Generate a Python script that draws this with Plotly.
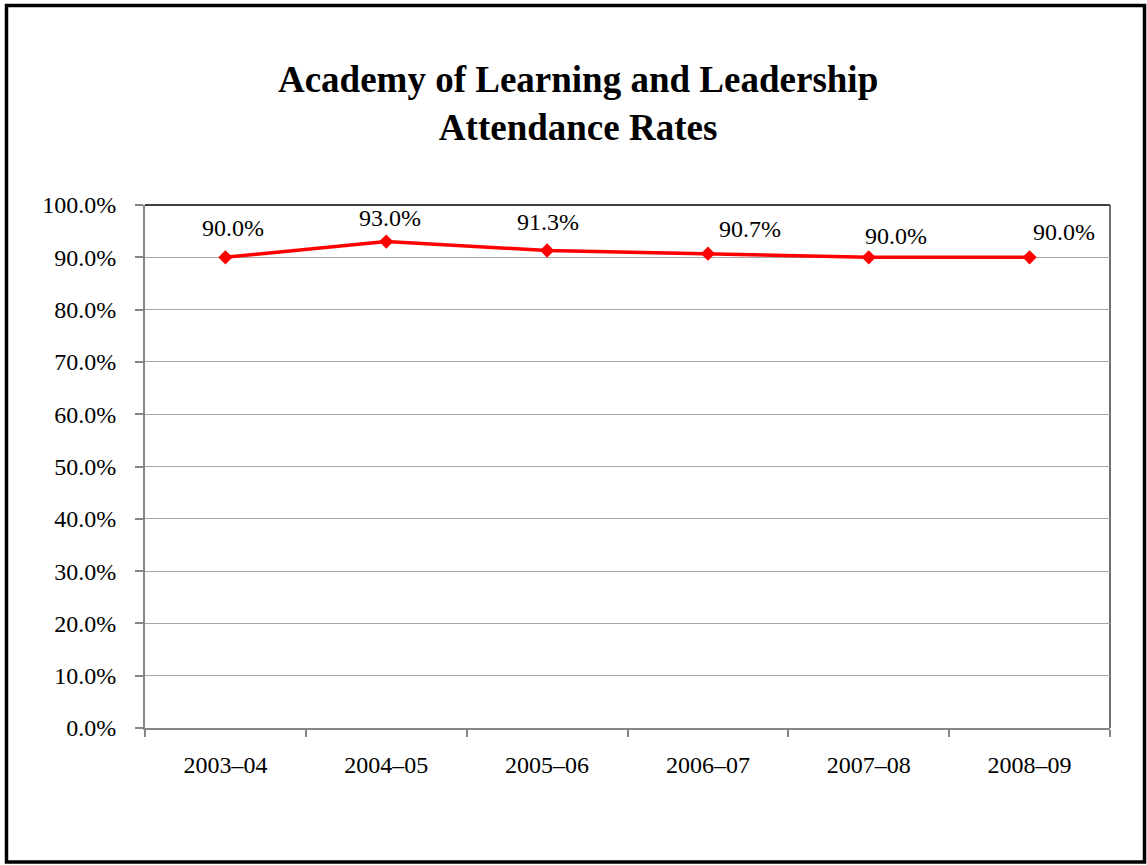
import plotly.graph_objects as go

# ---- data ----
years = ["2003–04", "2004–05", "2005–06", "2006–07", "2007–08", "2008–09"]
attendance = [0.900, 0.930, 0.913, 0.907, 0.900, 0.900]
y_ticks = [0.0, 0.1, 0.2, 0.3, 0.4, 0.5, 0.6, 0.7, 0.8, 0.9, 1.0]

# ---- style ----
W, H = 1147, 865
L, R, T, B = 145, 37, 205, 137
FONT = "Liberation Serif, Times New Roman, serif"
label_xshift = [8, 4, 1, 42, 27, 34]
label_yshift = [29, 24, 29, 25, 21, 25]

fig = go.Figure()
fig.add_trace(go.Scatter(
    x=years, y=attendance, mode="lines+markers",
    line=dict(color="#FF0000", width=3.5),
    marker=dict(symbol="diamond", size=11, color="#FF0000"),
    hoverinfo="skip", showlegend=False,
))

for i, (x, v) in enumerate(zip(years, attendance)):
    fig.add_annotation(
        x=x, y=v, xref="x", yref="y", text=f"{v*100:.1f}%",
        showarrow=False, xanchor="center", yanchor="middle",
        xshift=label_xshift[i], yshift=label_yshift[i],
        font=dict(family=FONT, size=24, color="black"),
    )

pw = W - L - R
ph = H - T - B
def px2paper_x(px):
    return (px - L) / pw
def px2paper_y(py):
    return (H - B - py) / ph

# outer frame
fig.add_shape(type="rect", xref="paper", yref="paper",
              x0=px2paper_x(6.5), x1=px2paper_x(1144.5),
              y0=px2paper_y(862), y1=px2paper_y(5.5),
              line=dict(color="black", width=3.5), layer="above")
# plot area top & right border
fig.add_shape(type="line", xref="paper", yref="paper", x0=0, x1=1, y0=1, y1=1,
              line=dict(color="#000000", width=1.5), layer="below")
fig.add_shape(type="line", xref="paper", yref="paper", x0=1, x1=1, y0=0, y1=1,
              line=dict(color="#404040", width=1.5), layer="below")

fig.update_layout(
    width=W, height=H,
    margin=dict(l=L, r=R, t=T, b=B),
    paper_bgcolor="white", plot_bgcolor="white",
    font=dict(family=FONT, size=24, color="black"),
    title=dict(
        text="<b>Academy of Learning and Leadership<br>Attendance Rates</b>",
        font=dict(family=FONT, size=37, color="black"),
        x=0.504, xref="container", xanchor="center",
        y=1 - 92 / H, yref="container", yanchor="top",
    ),
    xaxis=dict(
        type="category", range=[-0.5, 5.5],
        showline=True, linecolor="#868686", linewidth=2,
        ticks="outside", ticklen=7, tickcolor="#868686", tickwidth=1.5,
        tickson="boundaries", showgrid=False, zeroline=False,
        tickfont=dict(family=FONT, size=24, color="black"),
        ticklabelstandoff=14,
    ),
    yaxis=dict(
        range=[0, 1], tickvals=y_ticks, tickformat=".1%",
        showline=True, linecolor="#868686", linewidth=2,
        ticks="outside", ticklen=8, tickcolor="#868686", tickwidth=1.5,
        showgrid=True, gridcolor="#A6A6A6", gridwidth=1.2,
        zeroline=False,
        tickfont=dict(family=FONT, size=24, color="black"),
        ticklabelstandoff=14,
    ),
)

fig.write_html("out.html")
